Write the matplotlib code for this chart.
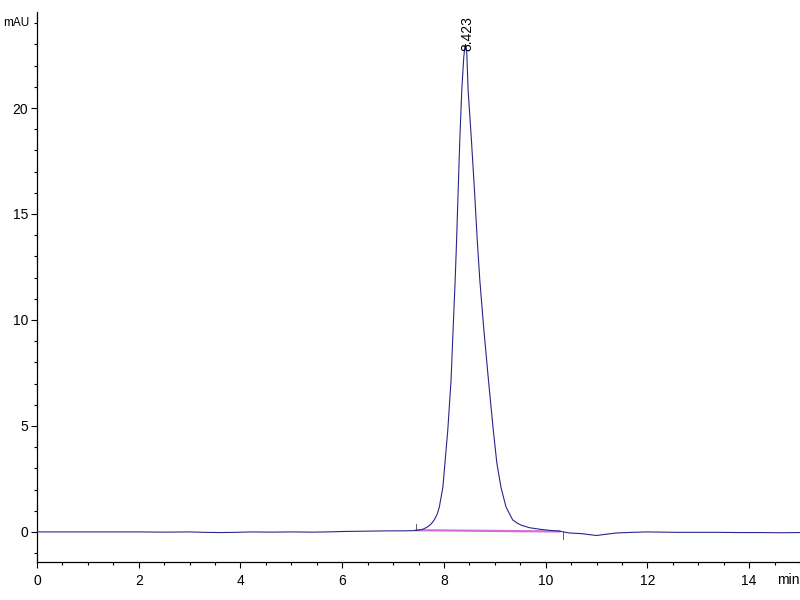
import matplotlib
matplotlib.use('Agg')
import matplotlib.pyplot as plt
from matplotlib.ticker import MultipleLocator

# chromatogram trace (min, mAU)
time = [0.0, 0.5, 1.0, 1.5, 2.0, 2.5, 3.0, 3.3, 3.6, 3.9, 4.2, 4.6, 5.0, 5.4, 5.7,
        6.0, 6.3, 6.6, 6.9, 7.2, 7.40, 7.52, 7.60, 7.68, 7.75, 7.81, 7.87, 7.91,
        7.98, 8.02, 8.076, 8.14, 8.18, 8.221, 8.249, 8.280, 8.312, 8.351, 8.39,
        8.41, 8.423, 8.435, 8.45, 8.475, 8.54, 8.60, 8.655, 8.705, 8.785, 8.875,
        8.97, 9.04, 9.12, 9.22, 9.35, 9.45, 9.54, 9.68, 9.90, 10.10, 10.27,
        10.35, 10.47, 10.7, 10.9, 11.0, 11.15, 11.39, 11.7, 12.0, 12.3, 12.6,
        13.0, 13.4, 13.8, 14.2, 14.6, 15.0]
signal = [0.0, 0.0, 0.0, 0.0, 0.0, -0.01, 0.0, -0.02, -0.03, -0.02, 0.0, -0.01,
          0.0, -0.01, 0.0, 0.02, 0.03, 0.04, 0.05, 0.05, 0.06, 0.09, 0.14, 0.24,
          0.38, 0.57, 0.85, 1.18, 2.12, 3.25, 4.81, 7.17, 9.53, 11.89, 13.77,
          16.13, 18.5, 20.85, 22.4, 22.85, 23.0, 22.9, 22.55, 20.85, 18.5, 16.13,
          13.77, 11.89, 9.53, 7.17, 4.81, 3.25, 2.12, 1.18, 0.57, 0.40, 0.30,
          0.20, 0.12, 0.07, 0.04, 0.0, -0.05, -0.08, -0.14, -0.17, -0.12, -0.05,
          -0.02, 0.0, -0.01, -0.02, -0.02, -0.02, -0.03, -0.03, -0.04, -0.03]

peak_rt = 8.423
peak_height = 23.0
base_t = [7.46, 10.27]
base_y = [0.08, 0.02]

plt.rcParams['font.family'] = ['Liberation Sans', 'DejaVu Sans']
plt.rcParams['font.size'] = 10

fig = plt.figure(figsize=(8, 6), dpi=100)
ax = fig.add_axes([0.04625, 0.0633, 0.95375, 0.9167])

ax.plot(base_t, base_y, color='#cc55cc', lw=1.6, alpha=0.85, zorder=2)
ax.plot(time, signal, color='#27278a', lw=0.8, zorder=3)

# integration start / end markers
ax.plot([base_t[0], base_t[0]], [base_y[0], base_y[0] + 0.3], color='#444444', lw=0.6)
ax.plot([10.35, 10.35], [0.0, -0.35], color='#444444', lw=0.6)

ax.text(peak_rt + 0.03, peak_height - 0.3, f'{peak_rt:.3f}', rotation=90,
        ha='center', va='bottom', fontsize=10)

ax.set_xlim(0, 15)
ax.set_ylim(-1.42, 24.53)
ax.xaxis.set_major_locator(MultipleLocator(2))
ax.xaxis.set_minor_locator(MultipleLocator(0.5))
ax.yaxis.set_major_locator(MultipleLocator(5))
ax.yaxis.set_minor_locator(MultipleLocator(1))
ax.tick_params(which='major', length=4.5, width=0.8, direction='out')
ax.tick_params(which='minor', length=2.2, width=0.8, direction='out')
ax.tick_params(axis='x', which='major', pad=4)
ax.tick_params(axis='y', which='major', pad=2)

for side in ['top', 'right']:
    ax.spines[side].set_visible(False)
for side in ['left', 'bottom']:
    ax.spines[side].set_linewidth(0.9)

ax.text(-0.01, 24, 'mAU', transform=ax.get_yaxis_transform(), ha='right',
        va='center', fontsize=8.5)
ax.text(15.0, -0.02, 'min', transform=ax.get_xaxis_transform(), ha='right', va='top')

fig.savefig('out.png', dpi=100)
